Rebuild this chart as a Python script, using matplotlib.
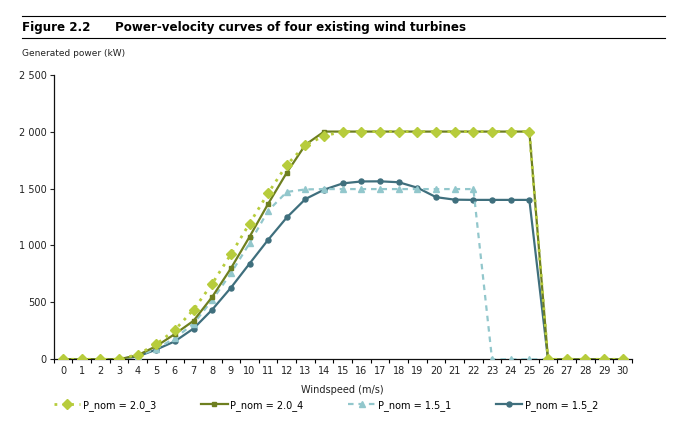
"""
Power-velocity curves of four existing wind turbines (Figure 2.2)
"""
import matplotlib
matplotlib.use("Agg")
import matplotlib.pyplot as plt
from matplotlib.lines import Line2D
from matplotlib.ticker import FuncFormatter, MultipleLocator
import numpy as np

plt.rcParams['font.family'] = ['DejaVu Sans']

### data ###
windspeed = list(range(0, 31))

p_2_0_3 = [0, 0, 0, 0, 42, 132, 258, 436, 664, 922, 1192, 1460, 1708, 1882, 1962,
           2000, 2000, 2000, 2000, 2000, 2000, 2000, 2000, 2000, 2000, 2000,
           0, 0, 0, 0, 0]
p_2_0_4 = [0, 0, 0, 0, 35, 115, 222, 338, 548, 798, 1075, 1366, 1640, 1885, 2000,
           2000, 2000, 2000, 2000, 2000, 2000, 2000, 2000, 2000, 2000, 2000,
           0, 0, 0, 0, 0]
p_1_5_1 = [0, 0, 0, 0, 30, 92, 185, 313, 520, 755, 1018, 1305, 1470, 1492, 1495,
           1495, 1495, 1495, 1495, 1495, 1495, 1495, 1495, 0, 0, 0,
           0, 0, 0, 0, 0]
p_1_5_2 = [0, 0, 0, 0, 25, 85, 158, 270, 436, 628, 840, 1050, 1246, 1408, 1490,
           1545, 1562, 1563, 1555, 1507, 1424, 1402, 1400, 1400, 1400, 1400,
           0, 0, 0, 0, 0]

labels = ['P_nom = 2.0_3', 'P_nom = 2.0_4', 'P_nom = 1.5_1', 'P_nom = 1.5_2']
colors = ['#b7cc3c', '#6e7f1f', '#92c7cc', '#3f6f7d']


def thousands(v, pos):
    return '{:,.0f}'.format(v).replace(',', ' ')


fig = plt.figure(figsize=(6.99, 4.22), dpi=100)
ax = fig.add_axes([0.0767, 0.1486, 0.8274, 0.6745])

# plotted from back to front
ax.plot(windspeed, p_1_5_2, color=colors[3], lw=1.6, marker='o', ms=3.6,
        label=labels[3], zorder=2)
ax.plot(windspeed, p_1_5_1, color=colors[2], lw=1.6, ls=(0, (2.5, 2.2)), marker='^',
        ms=4.3, label=labels[2], zorder=3)
ax.plot(windspeed, p_2_0_4, color=colors[1], lw=1.6, marker='s', ms=3.4,
        label=labels[1], zorder=4)
ax.plot(windspeed, p_2_0_3, color=colors[0], lw=2.0, ls=(0, (1, 2)), marker='D',
        ms=4.6, label=labels[0], zorder=5)

ax.set_xlim(-0.5, 30.5)
ax.set_ylim(0, 2500)
ax.xaxis.set_major_locator(MultipleLocator(1))
ax.xaxis.set_minor_locator(MultipleLocator(1, offset=0.5))
ax.yaxis.set_major_locator(MultipleLocator(500))
ax.yaxis.set_major_formatter(FuncFormatter(thousands))
ax.tick_params(axis='x', which='major', length=0, pad=5, labelsize=7, colors='#222222')
ax.tick_params(axis='x', which='minor', length=3, direction='out', width=0.8)
ax.tick_params(axis='y', length=3, direction='out', width=0.8, pad=2,
               labelsize=7, colors='#222222')
for side in ['top', 'right']:
    ax.spines[side].set_visible(False)
for side in ['left', 'bottom']:
    ax.spines[side].set_linewidth(0.9)
    ax.spines[side].set_color('#111111')

ax.set_xlabel('Windspeed (m/s)', fontsize=7, labelpad=6, color='#222222')

# legend in the original order
handles, labs = ax.get_legend_handles_labels()
order = [3, 2, 1, 0]
fig.legend([handles[i] for i in order], [labs[i] for i in order],
           loc='center left', bbox_to_anchor=(0.065, 0.04), ncol=4, frameon=False,
           fontsize=7, handlelength=2.7, columnspacing=4.6, handletextpad=0.3)

# header block
fig.add_artist(Line2D([0.031, 0.951], [0.962, 0.962], color='black', lw=0.8))
fig.add_artist(Line2D([0.031, 0.951], [0.909, 0.909], color='black', lw=0.8))
fig.text(0.031, 0.936, 'Figure 2.2', fontsize=8.6, fontweight='bold', va='center')
fig.text(0.1645, 0.936, 'Power-velocity curves of four existing wind turbines',
         fontsize=8.6, fontweight='bold', va='center')
fig.text(0.031, 0.874, 'Generated power (kW)', fontsize=6.5, va='center', color='#222222')

fig.savefig('out.png', dpi=100)
